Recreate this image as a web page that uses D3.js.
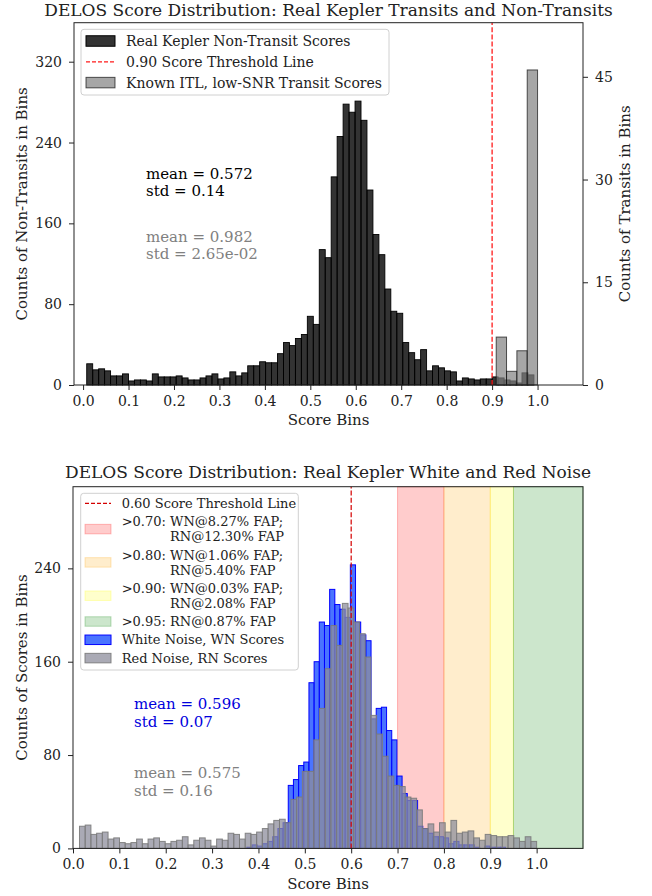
<!DOCTYPE html>
<html>
<head>
<meta charset="utf-8">
<script src="https://cdn.jsdelivr.net/npm/d3@7/dist/d3.min.js"></script>
<style>
  html, body { margin: 0; padding: 0; background: #fff; }
  svg text { font-family: "DejaVu Serif", serif; }
</style>
</head>
<body>
<svg id="fig" width="652" height="896"></svg>
<script>
// ---------- Panel 1: real Kepler transits vs non-transits ----------
// 75 equal-width bins spanning nonTransitRange
const nonTransitCounts = [
  21, 15, 16, 14, 9, 9, 11, 4, 5, 5,
  4, 11, 8, 8, 8, 9, 7, 5, 5, 7,
  9, 11, 6, 7, 13, 9, 12, 19, 19, 23,
  22, 22, 31, 42, 39, 46, 50, 68, 60, 134,
  126, 206, 246, 278, 270, 281, 262, 193, 149, 129,
  95, 73, 71, 42, 32, 25, 35, 14, 19, 17,
  14, 13, 4, 7, 6, 5, 6, 6, 8, 7,
  5, 4, 2, 12, 10
];
const nonTransitRange = [0.008, 0.992];
// 4 equal-width bins spanning transitRange (right-hand axis)
const transitCounts = [7, 2, 5, 46];
const transitRange = [0.909, 1.0];
const transitThreshold = 0.90;
const scoreTicks = [0.0, 0.1, 0.2, 0.3, 0.4, 0.5, 0.6, 0.7, 0.8, 0.9, 1.0];
const nonTransitTicks = [0, 80, 160, 240, 320];
const transitTicks = [0, 15, 30, 45];
const nonTransitStats = ["mean = 0.572", "std = 0.14"];
const transitStats = ["mean = 0.982", "std = 2.65e-02"];
const transitLegend = [
  "Real Kepler Non-Transit Scores",
  "0.90 Score Threshold Line",
  "Known ITL, low-SNR Transit Scores"
];

// ---------- Panel 2: real Kepler white and red noise ----------
// 50 equal-width bins spanning whiteNoiseRange
const whiteNoiseCounts = [
  1, 3, 2, 4, 6, 10, 17, 22, 54, 59,
  71, 74, 142, 160, 194, 191, 222, 209, 205, 198,
  243, 194, 183, 178, 111, 120, 121, 101, 93, 62,
  47, 41, 41, 19, 17, 13, 10, 10, 9, 4,
  6, 3, 3, 3, 1, 0, 2, 1, 1, 1
];
const whiteNoiseRange = [0.375, 0.933];
// 80 equal-width bins spanning redNoiseRange
const redNoiseCounts = [
  19, 20, 12, 13, 14, 8, 9, 5, 4, 5,
  8, 4, 8, 9, 6, 4, 6, 7, 10, 3,
  7, 9, 7, 2, 8, 7, 13, 12, 8, 13,
  12, 14, 17, 21, 24, 25, 22, 42, 44, 66,
  66, 93, 120, 154, 191, 174, 210, 206, 194, 184,
  164, 114, 98, 79, 62, 54, 53, 44, 43, 33,
  17, 21, 14, 22, 14, 24, 13, 14, 15, 9,
  7, 12, 11, 10, 10, 11, 9, 6, 10, 6
];
const redNoiseRange = [0.014, 1.0];
const noiseThreshold = 0.60;
const fapBandEdges = [0.70, 0.80, 0.90, 0.95, 1.10];
const fapBandLabels = [
  [">0.70: WN@8.27% FAP;", "RN@12.30% FAP"],
  [">0.80: WN@1.06% FAP;", "RN@5.40% FAP"],
  [">0.90: WN@0.03% FAP;", "RN@2.08% FAP"],
  [">0.95: RN@0.87% FAP"]
];
const noiseTicks = [0, 80, 160, 240];
const whiteNoiseStats = ["mean = 0.596", "std = 0.07"];
const redNoiseStats = ["mean = 0.575", "std = 0.16"];
const noiseLegend = [
  "0.60 Score Threshold Line",
  "White Noise, WN Scores",
  "Red Noise, RN Scores"
];

// ---------- helpers ----------
const svg = d3.select("#fig");
const INK = "#222";

function toBins(counts, range) {
  const [lo, hi] = range, n = counts.length;
  return counts.map((c, i) => ({ x0: lo + (hi - lo) * i / n, x1: lo + (hi - lo) * (i + 1) / n, c }));
}

function drawBars(g, data, x, y, s) {
  g.selectAll(null).data(data).join("rect")
    .attr("x", d => x(d.x0))
    .attr("width", d => x(d.x1) - x(d.x0))
    .attr("y", d => y(d.c))
    .attr("height", d => y(0) - y(d.c))
    .attr("fill", s.fill)
    .attr("fill-opacity", s.fillOpacity)
    .attr("stroke", s.stroke)
    .attr("stroke-opacity", s.strokeOpacity)
    .attr("stroke-width", s.strokeWidth);
}

function styleAxis(g) {
  g.select(".domain").remove();
  g.selectAll(".tick line").attr("stroke", INK).attr("stroke-width", 1);
  g.selectAll(".tick text").attr("font-size", 14).attr("fill", INK)
    .attr("font-family", '"DejaVu Serif", serif');
}

function vLabel(x, y, txt) {
  svg.append("text").attr("transform", `translate(${x},${y}) rotate(-90)`)
    .attr("text-anchor", "middle").attr("font-size", 15).attr("fill", INK).text(txt);
}

function legend(box, entries, o) {
  const g = svg.append("g");
  g.append("rect").attr("x", box.x).attr("y", box.y).attr("width", box.w).attr("height", box.h)
    .attr("rx", 3).attr("fill", "#fff").attr("fill-opacity", 0.85)
    .attr("stroke", "#d0d0d0").attr("stroke-width", 1);
  let cy = o.firstY;
  entries.forEach(e => {
    const n = e.lines.length;
    const mid = cy + (n - 1) * o.lineGap / 2;
    if (e.kind === "line") {
      g.append("line").attr("x1", o.px).attr("x2", o.px + o.pw).attr("y1", mid).attr("y2", mid)
        .attr("stroke", e.stroke).attr("stroke-width", 1.3).attr("stroke-dasharray", "4,2");
    } else {
      g.append("rect").attr("x", o.px).attr("y", mid - o.ph / 2).attr("width", o.pw).attr("height", o.ph)
        .attr("fill", e.fill).attr("fill-opacity", e.fillOpacity)
        .attr("stroke", e.stroke).attr("stroke-opacity", e.strokeOpacity).attr("stroke-width", 1);
    }
    e.lines.forEach((t, i) => {
      g.append("text").attr("x", i === 0 ? o.tx : o.tx2).attr("y", cy + i * o.lineGap + o.fs * 0.36)
        .attr("font-size", o.fs).attr("fill", INK).text(t);
    });
    cy += (n - 1) * o.lineGap + o.rowGap;
  });
}

// ---------- panel 1 ----------
{
  const L = 74, R = 583, T = 22.7, B = 385;
  const x = d3.scaleLinear().domain([-0.02, 1.1]).range([L, R]);
  const yL = d3.scaleLinear().domain([0, 358.6]).range([B, T]);
  const yR = d3.scaleLinear().domain([0, 52.9]).range([B, T]);
  const g = svg.append("g");

  drawBars(g.append("g"), toBins(nonTransitCounts, nonTransitRange), x, yL,
    { fill: "#000", fillOpacity: 0.8, stroke: "#000", strokeOpacity: 1, strokeWidth: 0.9 });
  drawBars(g.append("g"), toBins(transitCounts, transitRange), x, yR,
    { fill: "#808080", fillOpacity: 0.7, stroke: "#000", strokeOpacity: 0.65, strokeWidth: 1 });

  g.append("line").attr("x1", x(transitThreshold)).attr("x2", x(transitThreshold))
    .attr("y1", B).attr("y2", T).attr("stroke", "#ff1a1a").attr("stroke-width", 1.3)
    .attr("stroke-dasharray", "5,2.2");

  g.append("rect").attr("x", L).attr("y", T).attr("width", R - L).attr("height", B - T)
    .attr("fill", "none").attr("stroke", INK).attr("stroke-width", 1);

  g.append("g").attr("transform", `translate(0,${B})`)
    .call(d3.axisBottom(x).tickValues(scoreTicks).tickFormat(d3.format(".1f")).tickSize(5).tickPadding(6))
    .call(styleAxis);
  g.append("g").attr("transform", `translate(${L},0)`)
    .call(d3.axisLeft(yL).tickValues(nonTransitTicks).tickFormat(d3.format("d")).tickSize(5).tickPadding(7))
    .call(styleAxis);
  g.append("g").attr("transform", `translate(${R},0)`)
    .call(d3.axisRight(yR).tickValues(transitTicks).tickFormat(d3.format("d")).tickSize(5).tickPadding(7))
    .call(styleAxis);

  svg.append("text").attr("x", (L + R) / 2).attr("y", 16).attr("text-anchor", "middle")
    .attr("font-size", 17).attr("fill", INK)
    .text("DELOS Score Distribution: Real Kepler Transits and Non-Transits");
  svg.append("text").attr("x", (L + R) / 2).attr("y", 425).attr("text-anchor", "middle")
    .attr("font-size", 15).attr("fill", INK).text("Score Bins");
  vLabel(27, (T + B) / 2, "Counts of Non-Transits in Bins");
  vLabel(630, (T + B) / 2, "Counts of Transits in Bins");

  nonTransitStats.forEach((t, i) => svg.append("text").attr("x", 146).attr("y", 178.5 + i * 17.5)
    .attr("font-size", 15).attr("fill", "#000").text(t));
  transitStats.forEach((t, i) => svg.append("text").attr("x", 146).attr("y", 241.5 + i * 17.5)
    .attr("font-size", 15).attr("fill", "#808080").text(t));

  legend({ x: 81, y: 29.3, w: 308, h: 65.7 }, [
    { kind: "patch", lines: [transitLegend[0]], fill: "#000", fillOpacity: 0.8, stroke: "#000", strokeOpacity: 1 },
    { kind: "line", lines: [transitLegend[1]], stroke: "#ff1a1a" },
    { kind: "patch", lines: [transitLegend[2]], fill: "#808080", fillOpacity: 0.7, stroke: "#000", strokeOpacity: 0.65 }
  ], { firstY: 41, lineGap: 15, rowGap: 20.8, px: 86, pw: 29, ph: 10.5, tx: 126, tx2: 126, fs: 14 });
}

// ---------- panel 2 ----------
{
  const L = 73, R = 583, T = 486.7, B = 848.4;
  const x = d3.scaleLinear().domain([0, 1.1]).range([L, R]);
  const y = d3.scaleLinear().domain([0, 310]).range([B, T]);
  const g = svg.append("g");
  const bandColors = ["#ff0000", "#ffa500", "#ffff00", "#008000"];

  const bands = fapBandLabels.map((lab, i) => ({ lo: fapBandEdges[i], hi: fapBandEdges[i + 1], color: bandColors[i], lab }));
  g.selectAll(null).data(bands).join("rect")
    .attr("x", d => x(d.lo)).attr("width", d => x(d.hi) - x(d.lo))
    .attr("y", T).attr("height", B - T)
    .attr("fill", d => d.color).attr("fill-opacity", 0.2)
    .attr("stroke", d => d.color).attr("stroke-opacity", 0.25).attr("stroke-width", 1);

  drawBars(g.append("g"), toBins(whiteNoiseCounts, whiteNoiseRange), x, y,
    { fill: "#2a5cff", fillOpacity: 0.85, stroke: "#0000ff", strokeOpacity: 1, strokeWidth: 1 });
  drawBars(g.append("g"), toBins(redNoiseCounts, redNoiseRange), x, y,
    { fill: "#8e8e9c", fillOpacity: 0.75, stroke: "#7a7a7a", strokeOpacity: 0.9, strokeWidth: 1 });

  g.append("line").attr("x1", x(noiseThreshold)).attr("x2", x(noiseThreshold))
    .attr("y1", B).attr("y2", T).attr("stroke", "#d40000").attr("stroke-width", 1.2)
    .attr("stroke-dasharray", "5,2.2");

  g.append("rect").attr("x", L).attr("y", T).attr("width", R - L).attr("height", B - T)
    .attr("fill", "none").attr("stroke", INK).attr("stroke-width", 1);

  g.append("g").attr("transform", `translate(0,${B})`)
    .call(d3.axisBottom(x).tickValues(scoreTicks).tickFormat(d3.format(".1f")).tickSize(5).tickPadding(6))
    .call(styleAxis);
  g.append("g").attr("transform", `translate(${L},0)`)
    .call(d3.axisLeft(y).tickValues(noiseTicks).tickFormat(d3.format("d")).tickSize(5).tickPadding(7))
    .call(styleAxis);

  svg.append("text").attr("x", (L + R) / 2).attr("y", 478).attr("text-anchor", "middle")
    .attr("font-size", 17).attr("fill", INK)
    .text("DELOS Score Distribution: Real Kepler White and Red Noise");
  svg.append("text").attr("x", (L + R) / 2).attr("y", 889).attr("text-anchor", "middle")
    .attr("font-size", 15).attr("fill", INK).text("Score Bins");
  vLabel(27, (T + B) / 2, "Counts of Scores in Bins");

  whiteNoiseStats.forEach((t, i) => svg.append("text").attr("x", 134).attr("y", 709 + i * 18)
    .attr("font-size", 15).attr("fill", "#0000dd").text(t));
  redNoiseStats.forEach((t, i) => svg.append("text").attr("x", 134).attr("y", 777.5 + i * 18)
    .attr("font-size", 15).attr("fill", "#808080").text(t));

  const entries = [{ kind: "line", lines: [noiseLegend[0]], stroke: "#d40000" }];
  bands.forEach(b => entries.push({ kind: "patch", lines: b.lab, fill: b.color, fillOpacity: 0.2, stroke: b.color, strokeOpacity: 0.25 }));
  entries.push({ kind: "patch", lines: [noiseLegend[1]], fill: "#2a5cff", fillOpacity: 0.85, stroke: "#0000ff", strokeOpacity: 1 });
  entries.push({ kind: "patch", lines: [noiseLegend[2]], fill: "#8e8e9c", fillOpacity: 0.75, stroke: "#7a7a7a", strokeOpacity: 0.9 });
  legend({ x: 80.7, y: 493.3, w: 217.6, h: 176.7 }, entries,
    { firstY: 503.3, lineGap: 15, rowGap: 18.3, px: 85, pw: 26, ph: 9.5, tx: 121.7, tx2: 170, fs: 13 });
}
</script>
</body>
</html>
